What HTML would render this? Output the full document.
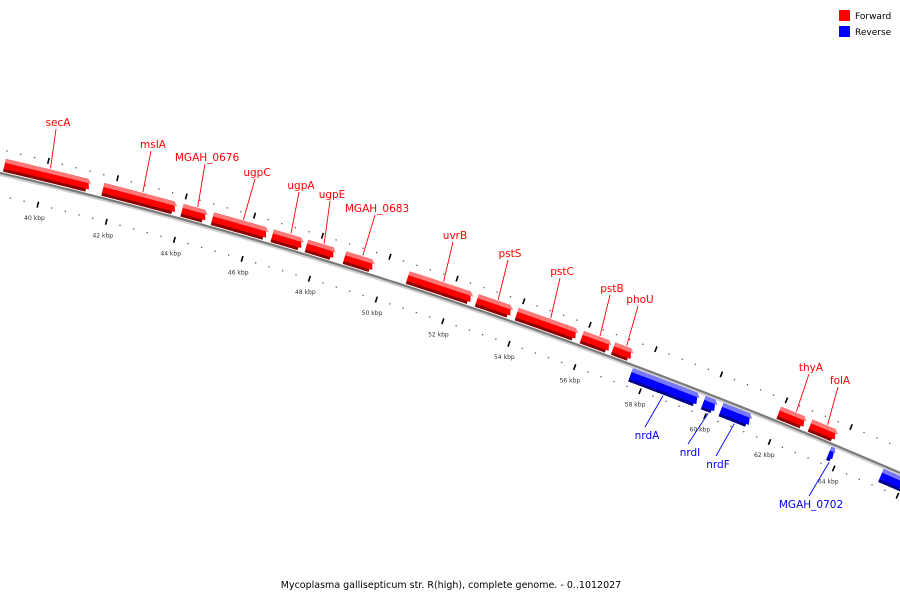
<!DOCTYPE html>
<html><head><meta charset="utf-8">
<style>
html,body{margin:0;padding:0;background:#fff;}
svg{display:block;font-family:"DejaVu Sans","Liberation Sans",sans-serif;}
</style></head>
<body>
<svg id="map" width="900" height="600" viewBox="0 0 900 600" xmlns="http://www.w3.org/2000/svg">
  <rect width="900" height="600" fill="#fff"/>
  <g id="ticks"></g>
  <g id="backbone"></g>
  <g id="genes"></g>
  <g id="labels"></g>
  <g>
    <rect x="839" y="10" width="11" height="11" fill="#ff0000"/>
    <text x="855" y="19" font-size="9" fill="#000">Forward</text>
    <rect x="839" y="26" width="11" height="11" fill="#0000ff"/>
    <text x="855" y="35" font-size="9" fill="#000">Reverse</text>
  </g>
  <text x="451" y="588" font-size="9.5" text-anchor="middle" fill="#000">Mycoplasma gallisepticum str. R(high), complete genome. - 0..1012027</text>
</svg>
<script>
// ---- data (kbp) ----
const geneNames  = ["secA","msIA","MGAH_0676","ugpC","ugpA","ugpE","MGAH_0683","uvrB","pstS","pstC","pstB","phoU","thyA","folA","nrdA","nrdI","nrdF","MGAH_0702","next-reverse"];
const geneStart  = [38.8,41.65,43.96,44.85,46.61,47.62,48.75,50.63,52.7,53.9,55.87,56.82,61.9,62.87,57.55,59.78,60.33,63.67,65.3];
const geneEnd    = [41.42,43.93,44.82,46.61,47.65,48.6,49.76,52.7,53.9,55.87,56.88,57.55,62.87,63.84,59.78,60.33,61.4,63.95,68];
const geneStrand = [1,1,1,1,1,1,1,1,1,1,1,1,1,1,-1,-1,-1,-1,-1];
const tickLabels = [40,42,44,46,48,50,52,54,56,58,60,62,64];
// label placement (layout, not data)
const labelPos = [[58,126],[153,148],[207,161],[257,176],[301,189],[332,198],[377,212],[455,239],[510,257],[562,275],[612,292],[640,303],[811,371],[840,384],[647,439],[690,456],[718,468],[811,508],null];

const NS="http://www.w3.org/2000/svg";
function yb(x){return 173+0.2333*x+0.000111*x*x;}
function pt(x,n){const d=0.2333+0.000222*x;const L=Math.sqrt(1+d*d);return [x-n*d/L, yb(x)+n/L];}
function xOf(k){const d=k-40;return 43+34.5*d-0.05*d*d;}
function mk(tag,attrs,parent){const e=document.createElementNS(NS,tag);for(const a in attrs)e.setAttribute(a,attrs[a]);parent.appendChild(e);return e;}

// backbone
const bb=document.getElementById('backbone');
let p1=[],p2=[];
for(let x=-10;x<=910;x+=5){const a=pt(x,0),b=pt(x,2);p1.push(a.join(','));p2.push(b.join(','));}
const bl2=mk('polyline',{points:p2.join(' '),fill:'none',stroke:'#cfcfcf','stroke-width':2},bb);


const bl=mk('polyline',{points:p1.join(' '),fill:'none',stroke:'#7a7a7a','stroke-width':2.2},bb);



// ticks
const tg=document.getElementById('ticks');
for(let i=0;i<=100;i++){
  const k=36+i*0.4; const x=xOf(k);
  if(x<-20||x>920)continue;
  const major=Math.abs(k/2-Math.round(k/2))<0.01;
  [[-23],[22]].forEach(([off])=>{
    if(major){
      const a=pt(x,off-3),b=pt(x,off+3);
      const l=mk('line',{x1:a[0],y1:a[1],x2:b[0],y2:b[1],stroke:'#000','stroke-width':1.6},tg);
      
      
    }else{
      const a=pt(x,off);
      const r=mk('rect',{x:a[0]-0.6,y:a[1]-0.6,width:1.3,height:1.3,fill:'#555'},tg);
      
      
    }
  });
}
tickLabels.forEach(k=>{
  const a=pt(xOf(k),36);
  const t=mk('text',{x:a[0],y:a[1]+2,'font-size':6,'text-anchor':'middle',fill:'#333'},tg);
  t.textContent=k+' kbp';
  
  
});

// genes
const gg=document.getElementById('genes'), lg=document.getElementById('labels');
function band(xs,xe,a,b,p,q,h){
  const m=(a+b)/2, half=(b-a)/2;
  const hp=h*Math.abs(p-m)/half, hq=h*Math.abs(q-m)/half;
  const pts=[];
  const e1=xe-h+ (h-hp), e2=xe-h+(h-hq);
  for(let s=0;s<=20;s++){const x=xs+(e1-xs)*s/20;pts.push(pt(x,p).join(','));}
  for(let s=20;s>=0;s--){const x=xs+(e2-xs)*s/20;pts.push(pt(x,q).join(','));}
  return pts.join(' ');
}
geneNames.forEach((name,i)=>{
  const xs=xOf(geneStart[i])+1, xe=xOf(geneEnd[i])-1;
  const fwd=geneStrand[i]>0;
  const a=fwd?-15:3, b=fwd?-2:17;
  const cols=fwd?['#8c0000','#ff0000','#ff7878']:['#00008c','#0000ff','#7878ff'];
  const h=Math.min(6,(xe-xs)*0.5);
  const g=mk('g',{},gg);
  
  
  mk('polygon',{points:band(xs,xe,a,b,a,b,h),fill:cols[0]},g);
  mk('polygon',{points:band(xs,xe,a,b,a,b-3,h),fill:cols[1]},g);
  mk('polygon',{points:band(xs,xe,a,b,a,a+4,h),fill:cols[2]},g);
  const lp=labelPos[i];
  if(lp){
    const col=fwd?'#ff0000':'#0000ff';
    const anc=pt((xs+xe)/2, fwd?a-1:b+1);
    const ly=fwd?lp[1]+3:lp[1]-12;
    const ln=mk('line',{x1:lp[0]-2,y1:ly,x2:anc[0],y2:anc[1],stroke:col,'stroke-width':0.9},lg);
    
    
    const t=mk('text',{x:lp[0],y:lp[1],'font-size':10.5,'text-anchor':'middle',fill:col},lg);
    t.textContent=name;
    
    
  }
});
</script>
</body></html>
